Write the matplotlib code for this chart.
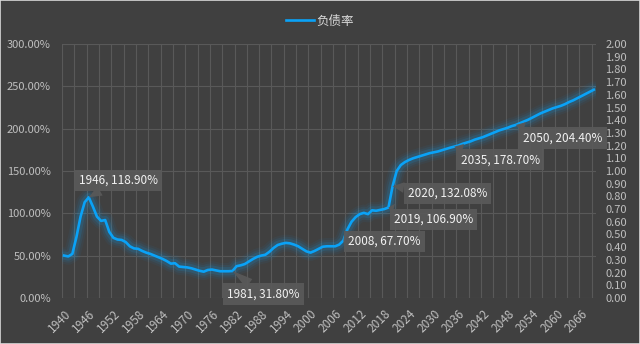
import numpy as np
import matplotlib
matplotlib.use("Agg")
import matplotlib.pyplot as plt
from matplotlib.patches import Rectangle

plt.rcParams['font.family'] = ['Noto Sans CJK SC', 'DejaVu Sans']

# debt ratio (% of GDP) by year, 1940-2069
years = list(range(1940, 2070))
debt_ratio = [
    50, 49, 52, 72, 96, 113, 118.9, 108, 96, 91,            # 1940s
    92, 78, 71, 69, 68.5, 66, 61, 58.5, 58, 55.5,           # 1950s
    53.5, 52, 50, 48, 46, 43.5, 40.5, 41, 37, 36.5,         # 1960s
    36, 35, 33.5, 32, 31, 33, 33.5, 32.5, 31.5, 31.5,       # 1970s
    31.5, 31.8, 37.5, 38.5, 40, 43, 46, 48.5, 50, 51,       # 1980s
    54.5, 59, 62.5, 64, 65, 64.5, 63, 61, 58, 55,           # 1990s
    53.5, 55.5, 58, 60.5, 61, 61, 61, 63, 67.7, 81,         # 2000s
    90, 95.5, 99, 100.5, 99, 103.5, 103, 104, 105, 106.9,   # 2010s
    132.08, 150, 157, 160.5, 163, 165, 166.5, 168, 169.5, 171,  # 2020s
    172, 173, 174.5, 176, 177.5, 178.7, 180, 182, 183.5, 185,   # 2030s
    187, 188.5, 190, 192, 194, 196, 198, 199.5, 201, 203,       # 2040s
    204.4, 206.5, 208.5, 210.5, 213, 215.5, 218, 220, 222, 224, # 2050s
    225.5, 227, 229, 231.5, 233.5, 236, 238.5, 241, 243.5, 246, # 2060s
]

# labelled points and where their callouts sit (pixel offsets)
label_years = [1946, 1981, 2008, 2019, 2020, 2035, 2050]
label_offsets = [(30, 17), (31, -23), (41, -1), (45, -12), (55, -7), (46, -13), (47, -13)]

bg = '#404040'
grid_c = '#595959'
tick_c = '#BFBFBF'
line_c = '#0AA2F7'

fig = plt.figure(figsize=(6.4, 3.44), dpi=100, facecolor=bg)
ax = fig.add_axes([0.097, 0.134, 0.834, 0.738], facecolor=bg)
ax2 = ax.twinx()

# soft glow under the line
for lw, a in [(12, 0.05), (9, 0.08), (6, 0.14)]:
    ax.plot(years, debt_ratio, color=line_c, lw=lw, alpha=a,
            solid_capstyle='round', solid_joinstyle='round', zorder=2)
ax.plot(years, debt_ratio, color=line_c, lw=1.9, label='负债率',
        solid_joinstyle='round', zorder=3)

ax.set_xlim(1939.5, 2069.5)
ax.set_ylim(0, 300)
ax.set_yticks(np.arange(0, 301, 50))
ax.set_yticklabels([f'{v:.2f}%' for v in np.arange(0, 301, 50)])
ax.set_xticks(np.arange(1940, 2070, 6))
ax.set_xticklabels([str(y) for y in range(1940, 2070, 6)], rotation=45,
                   ha='right', rotation_mode='anchor')
ax.set_xticks(np.arange(1939.5, 2070, 3), minor=True)
ax.grid(True, which='minor', axis='x', color=grid_c, lw=0.8)
ax.grid(True, which='major', axis='y', color=grid_c, lw=0.8)
ax.tick_params(which='both', length=0)
ax.tick_params(axis='y', labelsize=8, labelcolor=tick_c, pad=8)
ax.tick_params(axis='x', labelsize=8.5, labelcolor=tick_c, pad=7)

ax2.set_ylim(0, 2)
ax2.set_yticks(np.round(np.arange(0, 2.01, 0.1), 2))
ax2.set_yticklabels([f'{v:.2f}' for v in np.arange(0, 2.01, 0.1)])
ax2.tick_params(length=0, labelsize=8, labelcolor=tick_c, pad=7)

for a_ in (ax, ax2):
    for s in a_.spines.values():
        s.set_visible(False)

# data callouts
for yr, off in zip(label_years, label_offsets):
    v = debt_ratio[years.index(yr)]
    txt = f'{yr}, {v:.2f}%'
    ax.annotate(txt, xy=(yr, v), xytext=off, textcoords='offset pixels',
                ha='center', va='center', fontsize=8.5, color='#F2F2F2', zorder=5,
                bbox=dict(boxstyle='square,pad=0.35', fc='#595959', ec='none', alpha=0.95),
                arrowprops=dict(arrowstyle='wedge,tail_width=0.9', fc='#595959',
                                ec='none', alpha=0.95, shrinkA=0, shrinkB=0))

leg = fig.legend(loc='upper center', bbox_to_anchor=(0.5, 0.99), frameon=False,
                 fontsize=9, handlelength=2.2, handletextpad=0.2)
for t in leg.get_texts():
    t.set_color('#D9D9D9')

# thin outer frame
fig.add_artist(Rectangle((0, 0), 1, 1, transform=fig.transFigure, fill=False,
                         ec='#D9D9D9', lw=1.2))

fig.savefig('out.png', dpi=100, facecolor=bg)
